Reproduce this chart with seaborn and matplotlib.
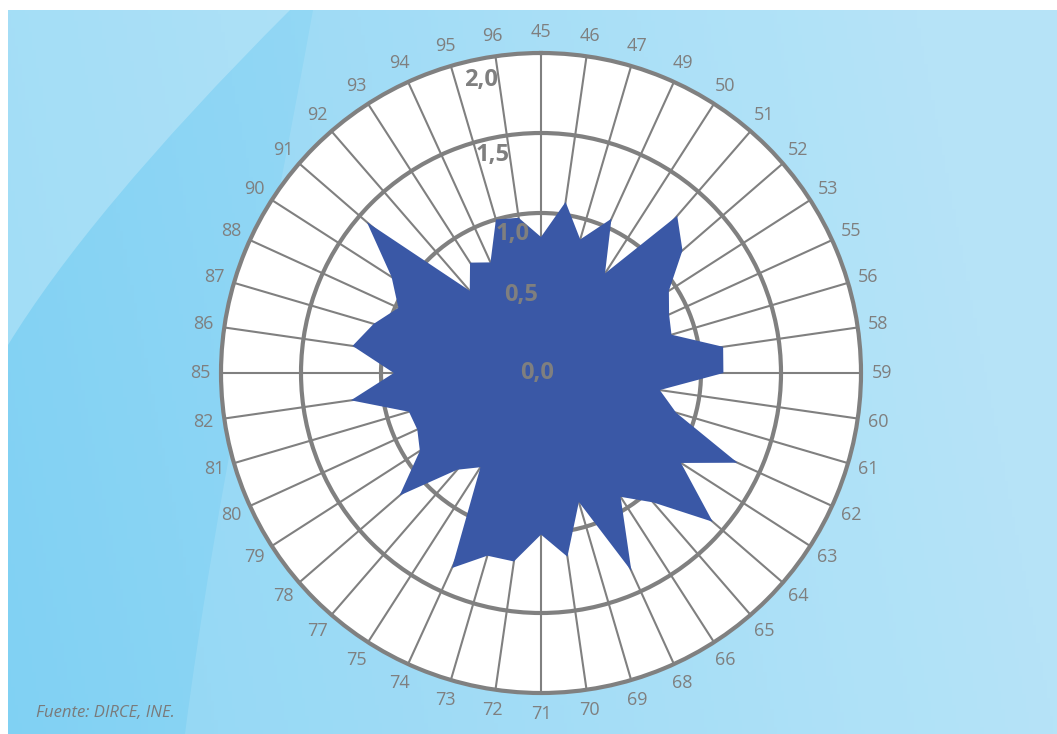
import numpy as np
import matplotlib
matplotlib.use("Agg")
import matplotlib.pyplot as plt
import seaborn as sns
from matplotlib.path import Path
from matplotlib.patches import PathPatch

# datos (tasa por categoría, eje 0-2)
categorias = ["45", "46", "47", "49", "50", "51", "52", "53", "55", "56", "58",
              "59", "60", "61", "62", "63", "64", "65", "66", "68", "69", "70",
              "71", "72", "73", "74", "75", "77", "78", "79", "80", "81", "82",
              "85", "86", "87", "88", "90", "91", "92", "93", "94", "95", "96"]
valores = [0.85, 1.08, 0.87, 1.06, 0.74, 1.30, 1.17, 0.95, 0.88, 0.85, 1.15,
           1.14, 0.75, 0.88, 1.35, 1.04, 1.42, 1.07, 0.92, 1.36, 0.84, 1.16,
           1.01, 1.19, 1.19, 1.34, 0.70, 0.80, 1.17, 0.90, 0.85, 0.86, 1.20,
           0.92, 1.19, 1.09, 0.98, 1.11, 1.44, 0.68, 0.82, 0.76, 1.00, 0.98]
ticks_r = [0.0, 0.5, 1.0, 1.5, 2.0]
ticks_lbl = ["0,0", "0,5", "1,0", "1,5", "2,0"]
fuente = "Fuente: DIRCE, INE."

sns.set_theme(style="white")
plt.rcParams['font.family'] = ['Open Sans', 'DejaVu Sans']

GRIS = "#808080"
AZUL = "#3a58a6"

fig = plt.figure(figsize=(10.57, 7.34), dpi=100, facecolor="white")

# fondo azul con degradado y brillos
bg = fig.add_axes([0, 0, 1, 1], zorder=-1)
bg.set_xlim(0, 1057)
bg.set_ylim(734, 0)
bg.axis("off")
h, w = 200, 300
yy, xx = np.mgrid[0:1:h * 1j, 0:1:w * 1j]
oscuro = np.array(matplotlib.colors.to_rgb("#72ccf2"))
claro = np.array(matplotlib.colors.to_rgb("#ace0f7"))
t = np.clip(0.25 + 0.75 * xx + 0.1 * (1 - yy), 0, 1)[..., None]
img = oscuro * (1 - t) + claro * t
bg.imshow(img, extent=(8, 1057, 734, 10), aspect="auto", zorder=0)

brillo1 = Path([(313, 10), (270, 250), (215, 500), (185, 734),
                (1057, 734), (1057, 10), (313, 10)],
               [Path.MOVETO, Path.CURVE4, Path.CURVE4, Path.CURVE4,
                Path.LINETO, Path.LINETO, Path.CLOSEPOLY])
bg.add_patch(PathPatch(brillo1, facecolor="white", alpha=0.12, lw=0, zorder=1))
brillo2 = Path([(8, 10), (290, 10), (150, 150), (60, 260), (8, 345), (8, 10)],
               [Path.MOVETO, Path.LINETO, Path.CURVE4, Path.CURVE4,
                Path.CURVE4, Path.CLOSEPOLY])
bg.add_patch(PathPatch(brillo2, facecolor="white", alpha=0.25, lw=0, zorder=1))

# gráfico radial
ax = fig.add_axes([221 / 1057, 41 / 734, 640 / 1057, 640 / 734], projection="polar")
ax.set_facecolor("white")
ax.set_theta_zero_location("N")
ax.set_theta_direction(-1)
ax.set_axisbelow(True)

n = len(categorias)
angulos = np.linspace(0, 2 * np.pi, n, endpoint=False)
ang_c = np.append(angulos, angulos[0])
val_c = np.append(valores, valores[0])
ax.fill(ang_c, val_c, color=AZUL, lw=0, zorder=2)

ax.set_ylim(0, 2.0)
ax.set_yticks(ticks_r[1:-1])
ax.set_yticklabels([])
ax.set_xticks(angulos)
ax.set_xticklabels([])
ax.yaxis.grid(True, color=GRIS, lw=3)
ax.xaxis.grid(True, color=GRIS, lw=1.5)
ax.spines["polar"].set_color(GRIS)
ax.spines["polar"].set_linewidth(3)
ax.tick_params(length=0)

for a, c in zip(angulos, categorias):
    ax.text(a, 2.13, c, ha="center", va="center", fontsize=13,
            color="#7f7f7f", clip_on=False)

desplaz = [(-4, 0), (-20, -2), (-28, -21), (-48, -22), (-60, -27)]
for r, lbl, d in zip(ticks_r, ticks_lbl, desplaz):
    ax.annotate(lbl, xy=(0, r), xytext=d, textcoords="offset pixels",
                ha="center", va="center", fontsize=17, fontweight="bold",
                color="#7f7f7f", zorder=5, annotation_clip=False)

fig.text(36 / 1057, 1 - 713 / 734, fuente, fontsize=12, style="italic",
         color="#7a7a7a", ha="left", va="center")

fig.savefig("out.png", dpi=100, facecolor=fig.get_facecolor())
